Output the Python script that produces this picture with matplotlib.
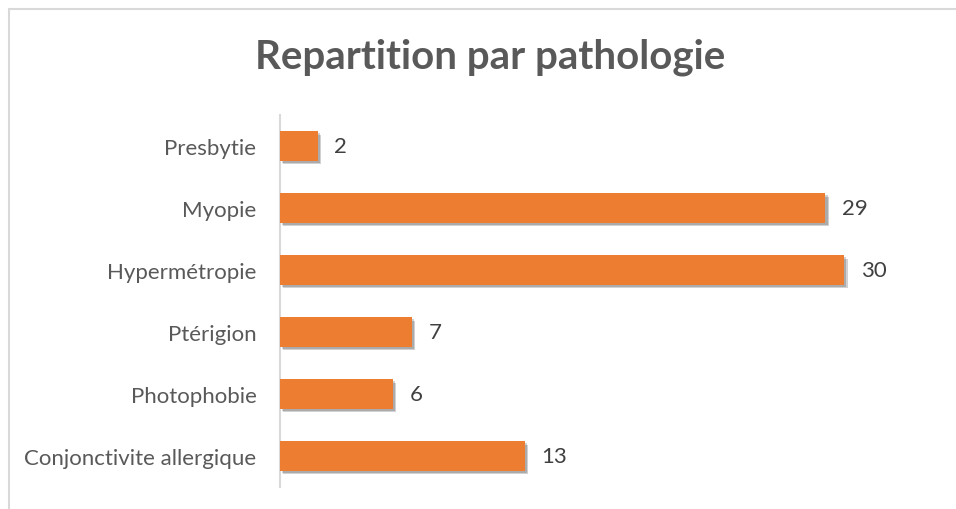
#!/usr/bin/env python3
"""Horizontal bar chart: repartition par pathologie."""

import matplotlib

matplotlib.use("Agg")
import matplotlib.patheffects as pe
import matplotlib.pyplot as plt
from matplotlib.patches import Rectangle

# Data (top to bottom as shown)
categories = [
    "Presbytie",
    "Myopie",
    "Hypermétropie",
    "Ptérigion",
    "Photophobie",
    "Conjonctivite allergique",
]
counts = [2, 29, 30, 7, 6, 13]

title = "Repartition par pathologie"

BAR_COLOR = "#ED7D31"
TEXT_COLOR = "#595959"
LABEL_COLOR = "#404040"
LINE_COLOR = "#D9D9D9"

W, H = 956, 510


def main() -> None:
    plt.rcParams["font.family"] = ["Lato", "DejaVu Sans"]

    fig = plt.figure(figsize=(W / 100, H / 100), dpi=100)

    # Axes placed in pixel terms: left 280, right 912, top 116, bottom 488
    left, right, top, bottom = 280, 912, 116, 488
    ax = fig.add_axes([left / W, 1 - bottom / H, (right - left) / W, (bottom - top) / H])

    y_pos = list(range(len(categories)))
    bars = ax.barh(y_pos, counts, height=0.48, color=BAR_COLOR, zorder=3)
    for b in bars:
        b.set_path_effects(
            [
                pe.SimplePatchShadow(offset=(2.5, -2.5), alpha=0.18, shadow_rgbFace="#000000"),
                pe.SimplePatchShadow(offset=(1.5, -1.5), alpha=0.18, shadow_rgbFace="#000000"),
                pe.Normal(),
            ]
        )

    ax.set_ylim(len(categories) - 0.5, -0.5)
    ax.set_xlim(0, 33.6)
    ax.set_yticks(y_pos)
    ax.set_yticklabels(categories, fontsize=16, color=TEXT_COLOR)
    ax.tick_params(axis="y", length=0, pad=17)
    ax.set_xticks([])

    for spine in ["top", "right", "bottom"]:
        ax.spines[spine].set_visible(False)
    ax.spines["left"].set_color(LINE_COLOR)
    ax.spines["left"].set_linewidth(1.5)

    # Value labels
    for y, v in zip(y_pos, counts):
        ax.annotate(
            str(v),
            xy=(v, y),
            xytext=(12, 0),
            textcoords="offset points",
            va="center",
            ha="left",
            fontsize=16,
            color=LABEL_COLOR,
        )

    fig.text(490 / W, 1 - 57 / H, title, ha="center", va="center",
             fontsize=29, fontweight="bold", color=TEXT_COLOR)

    # Chart frame (cropped on right and bottom)
    fig.patches.append(
        Rectangle((8.5 / W, -0.1), 1.2, 1 - 9.5 / H + 0.1, transform=fig.transFigure,
                  fill=False, edgecolor=LINE_COLOR, linewidth=1.5, figure=fig)
    )

    fig.savefig("out.png", dpi=100)


if __name__ == "__main__":
    main()
